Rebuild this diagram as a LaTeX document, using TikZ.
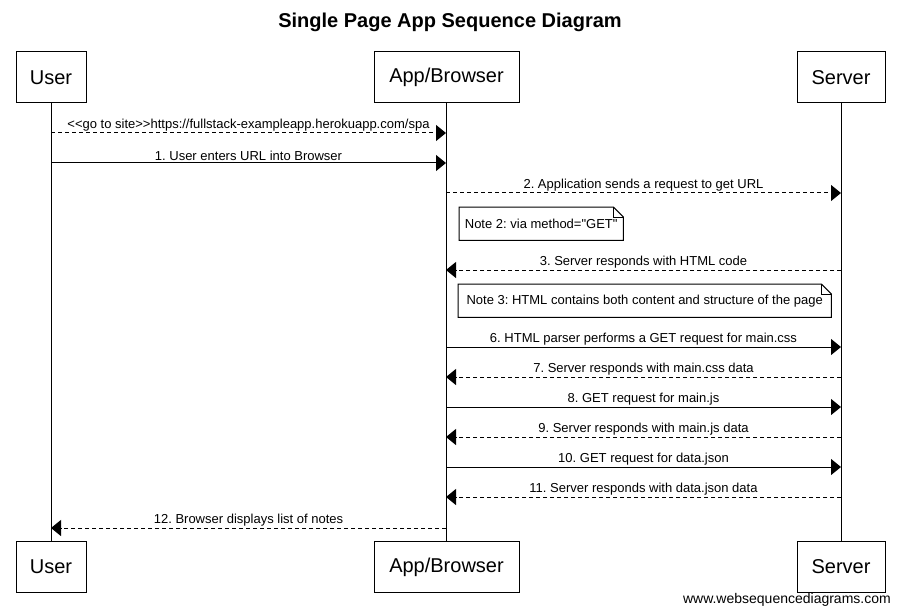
\documentclass[tikz,border=0pt]{standalone}
\usepackage{fontspec}
\setmainfont{Liberation Sans}[Ligatures=TeXOff]
\usetikzlibrary{arrows.meta}
\frenchspacing
\begin{document}
\begin{tikzpicture}[x=1pt,y=-1pt,
  actor/.style={draw,line width=1pt,fill=white,font=\fontsize{20}{24}\selectfont,minimum height=51pt,inner sep=0pt},
  msg/.style={line width=1pt,-{Triangle[length=10pt,width=16pt]}},
  reply/.style={msg,dash pattern=on 4pt off 3pt},
  lbl/.style={font=\fontsize{13}{15}\selectfont,inner sep=1.5pt,above},
  life/.style={line width=1pt},
  notebox/.style={font=\fontsize{13}{15}\selectfont,inner sep=0pt,minimum height=33pt,anchor=north west},
  noteline/.style={line width=1pt}]
\useasboundingbox (0,0) rectangle (900,615);

\node[font=\bfseries\fontsize{20}{24}\selectfont] (title) at (450,22) {Single Page App Sequence Diagram};

\node[actor,minimum width=70pt] (uT) at (51,77.5) {User};
\node[actor,minimum width=145pt] (aT) at (446.5,77.5) {App/Browser};
\node[actor,minimum width=88pt] (sT) at (841,77.5) {Server};
\node[actor,minimum width=70pt] (uB) at (51,567) {User};
\node[actor,minimum width=145pt] (aB) at (446.5,567) {App/Browser};
\node[actor,minimum width=88pt] (sB) at (841,567) {Server};

\draw[life] (uT.south) -- (uB.north);
\draw[life] (aT.south) -- (aB.north);
\draw[life] (sT.south) -- (sB.north);

\foreach \n/\y in {1/133,2/163,3/193,4/270,5/347,6/377,7/407,8/437,9/467,10/497,11/528}{
  \coordinate (u\n) at (51,\y);
  \coordinate (a\n) at (446,\y);
  \coordinate (s\n) at (841,\y);
}

\draw[reply] (u1) -- node[lbl]{<\kern0pt<go to site>\kern0pt>https://fullstack-exampleapp.herokuapp.com/spa} (a1);
\draw[msg] (u2) -- node[lbl]{1. User enters URL into Browser} (a2);
\draw[reply] (a3) -- node[lbl]{2. Application sends a request to get URL} (s3);
\draw[reply] (s4) -- node[lbl]{3. Server responds with HTML code} (a4);
\draw[msg] (a5) -- node[lbl]{6. HTML parser performs a GET request for main.css} (s5);
\draw[reply] (s6) -- node[lbl]{7. Server responds with main.css data} (a6);
\draw[msg] (a7) -- node[lbl]{8. GET request for main.js} (s7);
\draw[reply] (s8) -- node[lbl]{9. Server responds with main.js data} (a8);
\draw[msg] (a9) -- node[lbl]{10. GET request for data.json} (s9);
\draw[reply] (s10) -- node[lbl]{11. Server responds with data.json data} (a10);
\draw[reply] (a11) -- node[lbl]{12. Browser displays list of notes} (u11);

\node[notebox,minimum width=164pt] (n2) at (459,207) {Note 2: via method="GET"};
\draw[noteline] (n2.north west) -- ([xshift=-10pt]n2.north east) -- ([yshift=-10pt]n2.north east) -- (n2.south east) -- (n2.south west) -- cycle;
\draw[noteline] ([xshift=-10pt]n2.north east) -- ([xshift=-10pt,yshift=-10pt]n2.north east) -- ([yshift=-10pt]n2.north east);

\node[notebox,minimum width=373pt] (n3) at (458,284) {Note 3: HTML contains both content and structure of the page};
\draw[noteline] (n3.north west) -- ([xshift=-10pt]n3.north east) -- ([yshift=-10pt]n3.north east) -- (n3.south east) -- (n3.south west) -- cycle;
\draw[noteline] ([xshift=-10pt]n3.north east) -- ([xshift=-10pt,yshift=-10pt]n3.north east) -- ([yshift=-10pt]n3.north east);

\node[font=\fontsize{14}{16}\selectfont,anchor=east,inner sep=0pt] (wm) at (891,600) {www.websequencediagrams.com};
\end{tikzpicture}
\end{document}
